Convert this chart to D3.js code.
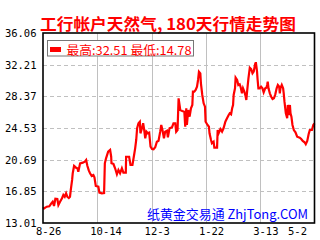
<!DOCTYPE html>
<html>
<head>
<meta charset="utf-8">
<script src="https://cdn.jsdelivr.net/npm/d3@7"></script>
<style>
  html, body { margin: 0; padding: 0; background: #fff; }
</style>
</head>
<body>
<div id="app"></div>
<script>
// trading-day index (0..180) and price
const days = [0.2,0.7,2.5,4.2,5.5,6.4,7.3,8.2,9.5,10.2,11.3,12.6,13.5,14.4,15.3,16.1,17.1,17.9,18.4,19.3,19.7,20.6,21.9,22.8,23.4,24.6,26.4,27.7,28.6,29.4,30.4,31.2,32.3,33.4,34.1,35,36.7,37.4,39,40.5,41,41.8,43.2,44.5,45.2,45.4,46.7,47.8,49,50,51.1,52.3,53.3,54.9,55.1,57.1,58,59.3,60.2,61.1,61.8,62.4,63.3,64.2,64.6,65.6,66.4,67.1,67.8,68.6,69.5,70.4,71.3,72.3,73.3,74.4,75.5,76.6,77.7,78.4,79.2,80.2,81,82.2,82.8,83.9,85.5,86.5,87.7,88.3,89.2,89.9,91,92.3,93.7,94.3,95,95.4,96.3,97.2,98.1,99,99.4,100.3,101.2,102.1,102.8,103.4,104.3,104.7,105.6,106.5,107.4,107.8,109.1,110,110.4,111.4,112,113.1,113.6,115.4,115.8,116.4,117.6,118.7,119.7,120.9,122,123.1,123.8,124.7,125.4,126,126.4,127.3,127.7,128.7,129.5,130.4,131.1,131.9,132.6,133.5,134.2,134.8,135.3,136.2,137.1,138,138.9,139.7,140.6,141.1,141.5,141.9,142.3,142.8,143.7,144.6,145.5,146.3,147.3,148.1,148.6,149,149.5,150.4,151.3,152.2,153.1,154,154.9,155.7,156.6,157,157.4,158.3,159.2,159.6,160.1,161,161.9,162.3,163,163.7,164.1,164.7,165.4,166.3,167.4,168.5,170.2,171.2,172.2,173.4,174.2,175.2,176.1,176.9,178.3,179.2,180];
const prices = [14.92,14.78,14.99,15.04,15.40,15.59,15.07,15.96,15.92,15.19,15.59,16.01,16.41,16.20,16.61,16.20,16.04,16.20,17.01,18.23,19.04,19.93,19.72,19.65,19.23,20.25,20.33,20.45,20.65,19.96,19.36,19.04,18.71,18.83,18.55,17.50,17.41,16.69,16.61,16.65,20.25,20.86,21.66,21.87,21.05,20.25,20.17,19.65,18.92,19.44,19.04,19.65,19.11,19.11,21.05,21.05,20.05,20.05,21.05,22.07,23.08,24.50,25.11,25.30,23.89,24.50,25.11,24.29,23.29,24.09,23.89,23.97,22.27,21.99,21.95,22.19,22.87,22.99,24.09,24.90,24.29,23.29,24.09,24.21,23.41,24.50,24.62,25.11,25.11,24.09,24.29,28.14,26.72,26.60,26.51,24.69,26.93,24.90,26.72,25.91,26.93,27.33,28.94,28.94,29.15,29.55,30.36,31.37,31.17,29.96,28.54,27.53,27.12,25.30,24.90,24.69,23.89,23.08,22.68,22.87,22.15,22.15,24.29,23.89,24.41,24.09,24.50,25.30,25.71,26.11,26.32,26.20,26.93,27.33,28.54,29.35,30.64,30.36,29.75,29.84,29.45,28.74,29.35,28.94,28.48,27.93,28.94,30.56,31.85,31.69,31.17,31.37,32.26,32.51,31.97,31.37,30.36,29.35,29.35,29.55,29.35,28.87,29.35,29.42,29.75,30.15,29.35,28.74,28.33,28.05,28.14,28.62,29.35,29.75,29.55,28.74,29.35,29.75,29.35,28.74,27.73,26.32,25.71,27.33,26.11,27.33,26.32,25.91,24.90,24.29,24.01,23.48,23.36,23.20,22.96,22.80,22.56,22.96,23.77,24.29,24.29,24.90,25.11];

const yTicks = [13.01, 16.85, 20.69, 24.53, 28.37, 32.21, 36.06];
const xTickDays = [0, 36, 72, 108, 144, 180];
const xTickLabels = ["8-26", "10-14", "12-3", "1-22", "3-13", "5-2"];

const title = "工行帐户天然气, 180天行情走势图";
const legendText = "最高:32.51 最低:14.78";
const watermark = "纸黄金交易通 ZhjTong.COM";

const width = 320, height = 240;
const margin = { top: 33, right: 6, bottom: 17, left: 43 };

const x = d3.scaleLinear().domain([0, 180]).range([margin.left, 314.5]);
const y = d3.scaleLinear().domain([13.01, 36.06]).range([height - margin.bottom, margin.top]);

const svg = d3.create("svg").attr("width", width).attr("height", height);
d3.select("#app").append(() => svg.node());

svg.append("rect").attr("width", width).attr("height", height).attr("fill", "#fff");

// title
svg.append("text")
  .attr("x", 40).attr("y", 23)
  .attr("dominant-baseline", "central")
  .attr("fill", "#ff0000")
  .attr("font-family", "'Noto Sans CJK SC', sans-serif")
  .attr("font-weight", 700)
  .attr("font-size", "16px")
  .attr("textLength", 256)
  .attr("lengthAdjust", "spacingAndGlyphs")
  .text(title);

// grid
const grid = svg.append("g").attr("class", "grid");
grid.selectAll("line.h")
  .data(yTicks.slice(1, -1))
  .join("line")
  .attr("class", "h")
  .attr("x1", margin.left).attr("x2", x(180))
  .attr("y1", d => Math.round(y(d)) + 0.5).attr("y2", d => Math.round(y(d)) + 0.5)
  .attr("stroke", "#c0c0c0")
  .attr("stroke-dasharray", "4,3");
grid.selectAll("line.v")
  .data(xTickDays.slice(1, -1))
  .join("line")
  .attr("class", "v")
  .attr("x1", d => Math.round(x(d)) + 0.5).attr("x2", d => Math.round(x(d)) + 0.5)
  .attr("y1", margin.top).attr("y2", height - margin.bottom)
  .attr("stroke", "#c0c0c0");

// watermark
svg.append("text")
  .attr("x", 147).attr("y", 213)
  .attr("dominant-baseline", "central")
  .attr("fill", "#0000ff")
  .attr("font-family", "'Noto Sans CJK SC', sans-serif")
  .attr("font-size", "13px")
  .attr("textLength", 161)
  .attr("lengthAdjust", "spacingAndGlyphs")
  .text(watermark);

// price line
const line = d3.line()
  .x((d, i) => x(days[i]))
  .y(d => y(d));

svg.append("path")
  .datum(prices)
  .attr("fill", "none")
  .attr("stroke", "#ff0000")
  .attr("stroke-width", 2.2)
  .attr("stroke-linejoin", "miter")
  .attr("d", line);

// frame
svg.append("rect")
  .attr("x", margin.left).attr("y", margin.top)
  .attr("width", x(180) - margin.left).attr("height", height - margin.bottom - margin.top)
  .attr("fill", "none")
  .attr("stroke", "#000")
  .attr("stroke-width", 1.6);

// legend
const legend = svg.append("g").attr("class", "legend");
legend.append("rect")
  .attr("x", 47.5).attr("y", 40.5).attr("width", 146).attr("height", 15.5)
  .attr("fill", "#fff").attr("stroke", "#777").attr("stroke-width", 1);
legend.append("rect")
  .attr("x", 50).attr("y", 47).attr("width", 11).attr("height", 5)
  .attr("fill", "#ff0000");
legend.append("text")
  .attr("x", 66.5).attr("y", 49.5)
  .attr("dominant-baseline", "central")
  .attr("fill", "#ff0000")
  .attr("font-family", "'Noto Sans CJK SC', sans-serif")
  .attr("font-size", "12px")
  .attr("textLength", 125)
  .attr("lengthAdjust", "spacingAndGlyphs")
  .text(legendText);

// y axis labels
svg.append("g")
  .selectAll("text")
  .data(yTicks)
  .join("text")
  .attr("x", 36.5)
  .attr("y", d => y(d))
  .attr("text-anchor", "end")
  .attr("dominant-baseline", "central")
  .attr("fill", "#000")
  .attr("font-family", "'DejaVu Sans Mono', monospace")
  .attr("font-size", "10.5px")
  .text(d => d.toFixed(2));

// x axis labels
svg.append("g")
  .selectAll("text")
  .data(xTickDays)
  .join("text")
  .attr("x", (d, i) => i === xTickDays.length - 1 ? 307 : x(d) - 7)
  .attr("y", 231)
  .attr("text-anchor", (d, i) => i === xTickDays.length - 1 ? "end" : "start")
  .attr("dominant-baseline", "central")
  .attr("fill", "#000")
  .attr("font-family", "'DejaVu Sans Mono', monospace")
  .attr("font-size", "10.5px")
  .text((d, i) => xTickLabels[i]);
</script>
</body>
</html>
